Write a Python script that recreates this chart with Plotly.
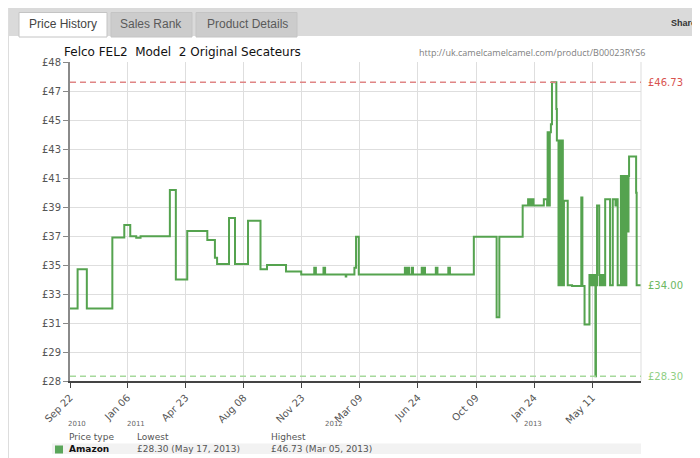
import numpy as np
import plotly.graph_objects as go

# ---- data ----
price_dates = [
    "2010-09-22", "2010-10-06", "2010-10-23", "2010-12-09", "2010-12-31",
    "2011-01-11", "2011-01-22", "2011-01-30", "2011-03-25", "2011-04-05",
    "2011-04-26", "2011-06-02", "2011-06-16", "2011-06-20", "2011-07-12",
    "2011-07-23", "2011-08-16", "2011-09-08", "2011-09-20", "2011-10-25",
    "2011-11-22", "2011-12-16", "2011-12-19", "2012-01-02", "2012-01-05",
    "2012-02-12", "2012-02-13", "2012-02-28", "2012-03-02", "2012-03-07",
    "2012-05-31", "2012-06-02", "2012-06-03", "2012-06-05", "2012-06-06",
    "2012-06-08", "2012-06-13", "2012-06-15", "2012-07-01", "2012-07-03",
    "2012-07-04", "2012-07-07", "2012-07-27", "2012-07-30", "2012-08-19",
    "2012-08-22", "2012-10-05", "2012-11-16", "2012-11-21", "2013-01-03",
    "2013-01-13", "2013-01-15", "2013-01-16", "2013-01-18", "2013-01-21",
    "2013-01-23", "2013-02-11", "2013-02-17", "2013-02-18", "2013-02-19",
    "2013-02-20", "2013-02-21", "2013-02-22", "2013-02-24", "2013-02-26",
    "2013-03-06", "2013-03-07", "2013-03-10", "2013-03-11", "2013-03-12",
    "2013-03-13", "2013-03-14", "2013-03-15", "2013-03-16", "2013-03-17",
    "2013-03-18", "2013-03-20", "2013-03-27", "2013-04-04", "2013-04-21",
    "2013-04-23", "2013-04-27", "2013-05-06", "2013-05-07", "2013-05-08",
    "2013-05-09", "2013-05-10", "2013-05-11", "2013-05-12", "2013-05-13",
    "2013-05-14", "2013-05-16", "2013-05-17", "2013-05-18", "2013-05-19",
    "2013-05-20", "2013-05-24", "2013-05-25", "2013-05-26", "2013-05-27",
    "2013-05-28", "2013-05-29", "2013-05-30", "2013-05-31", "2013-06-01",
    "2013-06-02", "2013-06-04", "2013-06-13", "2013-06-18", "2013-06-23",
    "2013-06-25", "2013-06-27", "2013-07-03", "2013-07-04", "2013-07-05",
    "2013-07-06", "2013-07-07", "2013-07-08", "2013-07-09", "2013-07-10",
    "2013-07-11", "2013-07-12", "2013-07-13", "2013-07-16", "2013-07-17",
    "2013-07-18", "2013-07-31", "2013-08-01", "2013-08-09",
]
price_values = [
    32.55, 35.00, 32.55, 37.00, 37.78,
    37.07, 36.98, 37.07, 39.98, 34.37,
    37.40, 36.84, 35.73, 35.33, 38.22,
    35.33, 38.05, 35.00, 35.27, 34.87,
    34.68, 35.10, 34.68, 35.10, 34.68,
    34.55, 34.68, 35.10, 37.05, 34.68,
    35.10, 34.68, 35.10, 34.68, 35.10,
    34.68, 35.10, 34.68, 35.10, 34.68,
    35.10, 34.68, 35.10, 34.68, 35.10,
    34.68, 37.05, 32.00, 37.05, 39.00,
    39.40, 39.00, 39.40, 39.00, 39.40,
    39.00, 39.40, 39.00, 43.60, 39.00,
    43.60, 39.00, 43.60, 44.10, 46.73,
    45.05, 43.08, 34.00, 43.08, 34.00,
    43.08, 34.00, 43.08, 34.00, 43.08,
    34.00, 39.30, 34.00, 33.95, 39.50,
    33.95, 31.54, 34.64, 34.00, 34.64,
    34.00, 34.64, 34.00, 34.64, 34.00,
    34.64, 34.00, 28.30, 34.64, 34.00,
    39.00, 34.64, 34.00, 34.64, 34.00,
    34.64, 34.00, 34.64, 34.00, 34.64,
    34.00, 39.40, 34.00, 39.40, 39.00,
    39.40, 34.00, 40.85, 34.00, 40.85,
    34.00, 40.85, 34.00, 40.85, 34.00,
    40.85, 34.00, 40.85, 37.37, 40.85,
    42.07, 39.80, 34.00, 34.00,
]

x_tick_dates = ["2010-09-22", "2011-01-06", "2011-04-23", "2011-08-08", "2011-11-23",
                "2012-03-09", "2012-06-24", "2012-10-09", "2013-01-24", "2013-05-11"]
y_tick_text = ["£28", "£29", "£31", "£33", "£35", "£37", "£39", "£41", "£43", "£45", "£47", "£48"]
year_labels = ["2010", "2011", "2012", "2013"]
year_dates = ["2010-09-22", "2011-01-01", "2012-01-01", "2013-01-01"]

highest_price = 46.73
lowest_price = 28.30
current_price = 34.00

# the page body adds an 8px margin, so the figure is 8px smaller than the window
OFF = 8
W, H = 700 - OFF, 458 - OFF
# plot area in window pixels
L, R, T, B = 70, 641, 62, 381
def px(x):
    return (x - L) / (R - L)
def py(y):
    return (B - y) / (B - T)

line_green = "#55a34f"
fnt = "DejaVu Sans"

fig = go.Figure()
fig.add_trace(go.Scatter(x=price_dates, y=price_values, mode="lines",
                         line=dict(color=line_green, width=2, shape="hv"),
                         hoverinfo="skip", showlegend=False))

shapes = []
# header band and tabs
shapes.append(dict(type="rect", xref="paper", yref="paper", x0=px(9), x1=px(700), y0=py(36), y1=py(OFF),
                   fillcolor="#dadada", line_width=0, layer="below"))
shapes.append(dict(type="line", xref="paper", yref="paper", x0=px(8.5), x1=px(8.5), y0=py(458), y1=py(OFF),
                   line=dict(color="#dddddd", width=1)))
for x0, x1, fill in [(19, 107, "#ffffff"), (111, 192, "#cccccc"), (196, 297, "#cccccc")]:
    shapes.append(dict(type="rect", xref="paper", yref="paper", x0=px(x0), x1=px(x1), y0=py(37), y1=py(12.5),
                       fillcolor=fill, line=dict(color="#c4c4c4", width=1)))
# right light border of plot
shapes.append(dict(type="line", xref="paper", yref="paper", x0=1, x1=1, y0=0, y1=1,
                   line=dict(color="#dddddd", width=1)))
# reference dashed lines
shapes.append(dict(type="line", xref="paper", yref="y", x0=0, x1=1, y0=highest_price, y1=highest_price,
                   line=dict(color="#e08585", width=1.5, dash="6px,4px")))
shapes.append(dict(type="line", xref="paper", yref="y", x0=0, x1=1, y0=lowest_price, y1=lowest_price,
                   line=dict(color="#a6d99c", width=1.5, dash="6px,4px")))
# table row band and legend swatch
shapes.append(dict(type="rect", xref="paper", yref="paper", x0=px(52), x1=px(641), y0=py(454), y1=py(443.5),
                   fillcolor="#f2f2f2", line_width=0, layer="below"))
shapes.append(dict(type="rect", xref="paper", yref="paper", x0=px(55), x1=px(63), y0=py(453.5), y1=py(445.5),
                   fillcolor="#5aa65a", line_width=0))

ann = []
def text(x, y, s, size, color, family=fnt, anchor="left", yanchor="middle", xref="paper", yref="paper"):
    ann.append(dict(x=x, y=y, xref=xref, yref=yref, text=s, showarrow=False, xanchor=anchor, yanchor=yanchor,
                    font=dict(family=family, size=size, color=color)))

text(px(62.5), py(24), "Price History", 12, "#444444", "Liberation Sans", "center")
text(px(151), py(24), "Sales Rank", 12, "#5a5a5a", "Liberation Sans", "center")
text(px(247), py(24), "Product Details", 12, "#5a5a5a", "Liberation Sans", "center")
text(px(698), py(23), "<b>Share</b>", 9, "#333333", "Liberation Sans", "right")
text(px(62), py(52), "Felco FEL2\u00a0\u00a0Model\u00a0\u00a02 Original Secateurs", 12, "#111111", fnt)
text(px(647), py(52), "http://uk.camelcamelcamel.com/product/B00023RYS6", 9, "#808080", "Open Sans", "right")
text(1, highest_price, "£46.73", 10, "#d9534f", yref="y")
text(1, current_price, "£34.00", 10, "#6cb862", yref="y")
text(1, lowest_price, "£28.30", 10, "#8fcf84", yref="y")
for a in ann[-3:]:
    a["xshift"] = 5
for lab, d in zip(year_labels, year_dates):
    text(d, py(423.5), lab, 7, "#666666", xref="x")
ann[-4]["xshift"] = -4
text(px(66.5), py(437), "Price type", 9, "#555555")
text(px(135), py(437), "Lowest", 9, "#555555")
text(px(268.5), py(437), "Highest", 9, "#555555")
text(px(66.5), py(449), "<b>Amazon</b>", 9, "#111111")
text(px(135), py(449), "£28.30 (May 17, 2013)", 9, "#555555")
text(px(268.5), py(449), "£46.73 (Mar 05, 2013)", 9, "#555555")

fig.update_layout(
    width=W, height=H,
    margin=dict(l=L - OFF, r=700 - R, t=T - OFF, b=458 - B),
    paper_bgcolor="white", plot_bgcolor="white",
    shapes=shapes, annotations=ann,
    xaxis=dict(range=["2010-09-22", "2013-08-09"], tickvals=x_tick_dates, tickformat="%b %d",
               tickangle=-45, ticks="outside", ticklen=5, tickcolor="#444444",
               tickfont=dict(family=fnt, size=10, color="#555555"),
               showgrid=True, gridcolor="#dedede", gridwidth=1,
               showline=True, linecolor="#444444", linewidth=2, zeroline=False),
    yaxis=dict(range=[28, 48], tickvals=list(np.linspace(28, 48, len(y_tick_text))), ticktext=y_tick_text,
               ticks="outside", ticklen=5, tickcolor="#888888",
               tickfont=dict(family=fnt, size=10, color="#555555"),
               showgrid=True, gridcolor="#dedede", gridwidth=1,
               showline=True, linecolor="#8a8a8a", linewidth=2, zeroline=False),
)

fig.write_html("out.html")
